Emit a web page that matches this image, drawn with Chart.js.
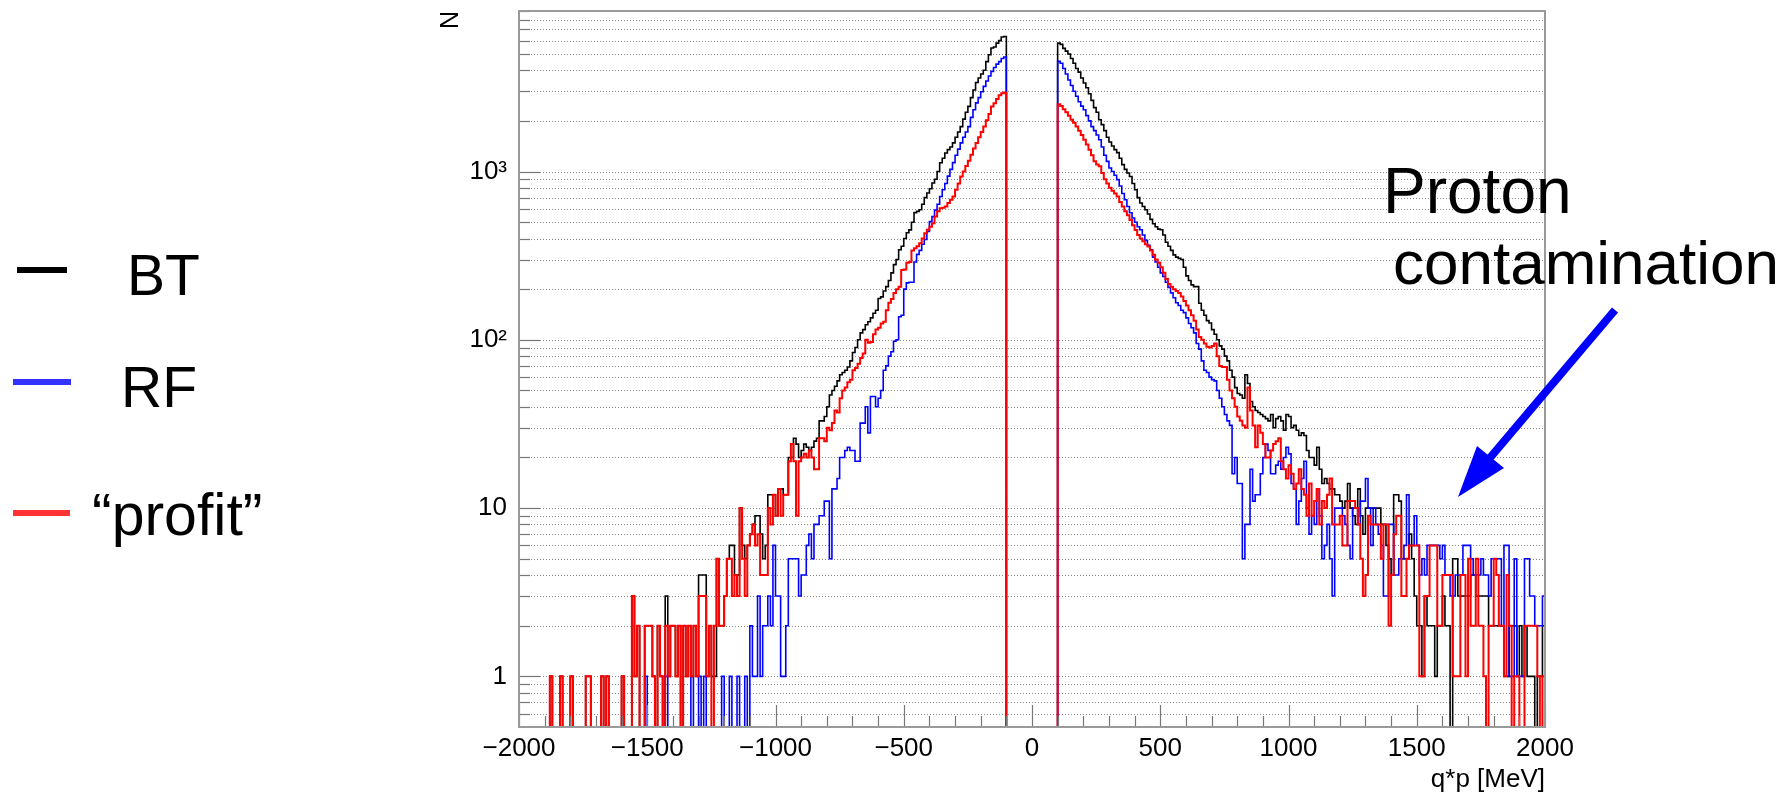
<!DOCTYPE html>
<html>
<head>
<meta charset="utf-8">
<title>q*p [MeV]</title>
<script src="https://cdn.jsdelivr.net/npm/chart.js@4.4.1/dist/chart.umd.min.js"></script>
<style>
  html, body { margin: 0; padding: 0; background: #fff; }
  canvas { display: block; }
</style>
</head>
<body>
<canvas id="chart" width="1790" height="794"></canvas>
<script>
// 10 MeV bins, the two branches are empty between -100 and +100
var binWidth = 10;
var negStart = -2000;
var posStart = 100;
var yMin = 0.5, yMax = 9000;

var yTicks = [1, 10, 100, 1000];
var yLabels = ['1', '10', '10\u00b2', '10\u00b3'];

// BT (black), q*p < 0 : bins from -2000 to -100
var btNeg = [
  0,0,0,0,0,0,0,0,0,0,
  0,0,1,0,0,0,1,0,0,0,
  1,0,0,0,0,0,1,1,0,0,
  0,0,1,0,1,0,0,0,0,0,
  1,0,0,0,3,1,2,0,0,2,
  2,2,1,0,2,1,0,3,1,2,
  2,1,2,0,2,1,2,1,2,1,
  4,4,4,1,2,1,1,5,2,2,
  3,5,6,6,4,4,10,6,5,6,
  7,8,9,9,7,5,6,12,12,12,
  9,13,13,12,12,20,20,26,24,20,
  22,24,23,22,23,25,26,33,33,35,
  40,47,50,53,57,62,64,66,69,75,
  84,90,100,110,115,123,128,135,144,150,
  176,180,195,207,225,250,280,300,343,360,
  400,433,450,500,570,580,593,640,700,745,
  790,855,900,1000,1128,1200,1290,1350,1400,1480,
  1600,1720,1850,2050,2250,2440,2750,3050,3380,3600,
  3800,4000,4500,4950,5420,5500,5800,6000,6300,6350
];
// BT, q*p > 0 : bins from 100 to 2000
var btPos = [
  5800,5700,5400,5200,5000,4700,4400,4100,3900,3600,
  3360,3150,2900,2650,2400,2250,2030,1900,1750,1600,
  1500,1420,1350,1295,1200,1100,1030,980,935,850,
  780,700,650,620,593,560,520,490,470,455,
  451,420,380,360,340,320,310,305,300,270,
  240,225,212,207,207,165,150,140,130,126,
  115,108,100,92,88,80,75,66,60,52,
  48,47,45,62,55,43,40,38,37,36,
  35,34,33,36,30,34,35,33,29,36,
  35,30,31,29,27,28,27,22,20,20,
  18,23,17,14,15,14,13,13,12,12,
  11,10,11,14,10,9,8,13,9,7,
  10,10,10,10,10,10,8,8,6,5,
  4,12,12,11,5,5,5,7,5,3,
  2,2,1,3,2,2,2,1,2,2,
  3,2,2,0,5,5,3,3,3,3,
  3,4,4,3,3,3,3,3,2,2,
  2,2,2,2,1,1,2,2,2,1,
  2,1,2,1,1,1,0,1,1,2
];

// RF (blue)
var rfNeg = [
  0,0,0,0,0,0,0,0,0,0,
  0,0,0,0,0,0,0,0,0,0,
  0,0,0,0,0,0,0,0,0,0,
  0,0,0,0,0,0,0,0,0,0,
  0,0,0,0,0,0,0,0,0,1,
  0,0,0,0,0,0,0,1,0,0,
  0,0,0,0,0,0,0,1,0,0,
  1,0,1,0,0,0,0,0,0,1,
  0,0,1,0,0,1,0,0,1,0,
  2,1,1,3,1,2,2,3,2,6,
  3,3,1,1,2,5,5,5,5,3,
  4,4,6,7,5,8,8,9,9,11,
  11,5,13,13,15,20,20,22,23,22,
  22,19,19,32,32,40,28,46,46,40,
  45,50,66,70,80,85,98,100,137,140,
  200,218,220,220,290,322,340,370,395,440,
  505,540,590,640,711,780,850,940,1030,1130,
  1250,1360,1480,1600,1720,1850,2100,2330,2560,2750,
  2980,3210,3450,3700,3940,4150,4350,4500,4700,4800
];
var rfPos = [
  4520,4400,4100,3800,3500,3250,3000,2800,2600,2450,
  2330,2150,2000,1850,1750,1650,1545,1400,1250,1150,
  1050,1000,950,895,820,740,680,620,569,530,
  500,470,451,420,390,365,343,310,290,270,
  250,238,220,205,190,178,166,160,150,145,
  135,125,118,110,95,88,75,66,64,60,
  58,57,50,45,40,36,33,31,16,20,
  14,14,5,8,8,17,11,12,12,16,
  20,24,22,16,16,18,19,17,20,23,
  21,14,13,8,11,15,19,10,7,9,
  8,13,9,5,6,8,5,3,10,10,
  10,9,8,6,5,10,10,8,11,11,
  15,10,6,10,8,7,6,3,3,8,
  8,4,4,5,5,6,12,6,6,9,
  6,4,5,4,6,6,6,6,6,5,
  6,4,4,3,3,4,4,4,6,6,
  6,5,4,4,4,5,4,4,3,5,
  5,5,5,2,6,6,1,1,5,1,
  1,1,5,5,3,3,2,2,2,3
];

// "profit" (red)
var profitNeg = [
  0,0,0,0,0,0,0,0,0,0,
  0,0,1,0,0,0,1,0,0,0,
  1,0,0,0,0,0,1,1,0,0,
  0,0,1,0,1,0,0,0,0,0,
  1,0,0,0,3,1,2,0,0,2,
  2,2,1,0,2,1,0,2,1,2,
  2,1,2,0,2,1,2,1,2,1,
  3,3,3,1,2,0,2,5,2,2,
  3,5,5,3,4,3,10,5,3,6,
  7,8,6,7,4,4,4,10,8,12,
  9,13,9,12,12,19,24,19,9,19,
  20,21,20,22,20,17,17,26,26,25,
  30,29,32,38,37,45,50,52,56,58,
  66,68,72,78,83,100,96,97,108,115,
  118,125,128,150,166,175,190,200,207,260,
  262,287,290,340,350,360,375,400,430,451,
  470,493,540,580,605,610,620,650,680,711,
  780,850,935,1000,1080,1160,1260,1370,1480,1600,
  1720,1850,2020,2200,2440,2550,2700,2840,2920,2950
];
var profitPos = [
  2510,2450,2350,2250,2150,2030,1950,1850,1750,1650,
  1545,1450,1350,1250,1150,1100,1075,980,900,850,
  800,770,740,711,660,620,580,550,516,480,
  450,420,400,385,370,359,340,320,300,287,
  270,250,230,215,207,200,195,190,181,170,
  160,150,140,130,115,104,100,95,91,90,
  92,95,80,70,69,69,58,50,45,40,
  35,33,31,30,52,38,31,23,31,28,
  24,20,20,22,24,25,26,19,17,15,
  18,16,13,14,17,13,12,9,14,9,
  11,13,8,11,10,12,15,8,8,8,
  9,6,6,11,11,11,10,8,5,3,
  4,9,8,8,8,8,5,8,8,2,
  4,7,9,9,3,3,5,6,6,6,
  6,1,1,3,3,6,6,6,2,2,
  4,4,4,4,1,1,1,4,4,1,
  5,2,2,5,2,2,1,0,2,2,
  5,4,2,2,1,4,2,0,1,1,
  0,0,2,2,2,2,2,1,0,1
];

var fontFamily = "'Liberation Sans', Arial, sans-serif";

// step outline through the bin left edges; empty bins sit on the frame bottom (as ROOT draws them)
function histPoints(neg, pos) {
  var pts = [];
  var i;
  for (i = 0; i < neg.length; i++) {
    pts.push({x: negStart + i * binWidth, y: neg[i] > 0 ? neg[i] : yMin});
  }
  pts.push({x: negStart + neg.length * binWidth, y: yMin});
  for (i = 0; i < pos.length; i++) {
    pts.push({x: posStart + i * binWidth, y: pos[i] > 0 ? pos[i] : yMin});
  }
  pts.push({x: posStart + pos.length * binWidth, y: pos[pos.length - 1] > 0 ? pos[pos.length - 1] : yMin});
  return pts;
}

// frame, dotted grid, inner ticks, titles, legend and the annotation
var decorations = {
  id: 'decorations',
  beforeDraw: function (chart) {
    var ctx = chart.ctx;
    ctx.save();
    ctx.fillStyle = '#ffffff';
    ctx.fillRect(0, 0, chart.width, chart.height);
    ctx.restore();
  },
  beforeDatasetsDraw: function (chart) {
    var ctx = chart.ctx, a = chart.chartArea, ys = chart.scales.y;
    ctx.save();
    ctx.strokeStyle = '#8a8a8a';
    ctx.lineWidth = 1;
    ctx.setLineDash([1, 2]);
    for (var d = 0.1; d < yMax; d *= 10) {
      for (var m = 1; m < 10; m++) {
        var v = m * d;
        if (v <= yMin * 1.01 || v > yMax) continue;
        var y = Math.round(ys.getPixelForValue(v)) + 0.5;
        ctx.beginPath();
        ctx.moveTo(a.left, y);
        ctx.lineTo(a.right, y);
        ctx.stroke();
      }
    }
    ctx.restore();
  },
  afterDatasetsDraw: function (chart) {
    var ctx = chart.ctx, a = chart.chartArea, xs = chart.scales.x, ys = chart.scales.y;
    ctx.save();
    ctx.strokeStyle = '#777777';
    ctx.lineWidth = 1.2;
    // y ticks
    for (var d = 0.1; d < yMax; d *= 10) {
      for (var m = 1; m < 10; m++) {
        var v = m * d;
        if (v <= yMin * 1.01 || v > yMax) continue;
        var y = Math.round(ys.getPixelForValue(v)) + 0.5;
        ctx.beginPath();
        ctx.moveTo(a.left, y);
        ctx.lineTo(a.left + (m === 1 ? 21 : 11), y);
        ctx.stroke();
      }
    }
    // x ticks
    for (var t = -2000; t <= 2000; t += 100) {
      var x = Math.round(xs.getPixelForValue(t)) + 0.5;
      ctx.beginPath();
      ctx.moveTo(x, a.bottom);
      ctx.lineTo(x, a.bottom - (t % 500 === 0 ? 22 : 11));
      ctx.stroke();
    }
    // frame
    ctx.strokeStyle = '#9a9a9a';
    ctx.lineWidth = 2;
    ctx.strokeRect(a.left, a.top, a.right - a.left, a.bottom - a.top);
    ctx.restore();
  },
  afterDraw: function (chart) {
    var ctx = chart.ctx, a = chart.chartArea;
    ctx.save();
    ctx.fillStyle = '#000000';

    // axis titles
    ctx.font = '26px ' + fontFamily;
    ctx.textAlign = 'right';
    ctx.textBaseline = 'alphabetic';
    ctx.fillText('q*p [MeV]', a.right, 787);
    ctx.save();
    ctx.translate(458, a.top);
    ctx.rotate(-Math.PI / 2);
    ctx.font = '25px ' + fontFamily;
    ctx.textAlign = 'right';
    ctx.fillText('N', 0, 0);
    ctx.restore();

    // legend
    ctx.lineWidth = 6;
    var legend = [
      {text: 'BT', color: '#000000', x1: 17, x2: 67, y: 270, tx: 127, ty: 295, size: 57},
      {text: 'RF', color: '#3333ff', x1: 13, x2: 71, y: 382, tx: 121, ty: 407, size: 57},
      {text: '\u201cprofit\u201d', color: '#ff3333', x1: 13, x2: 70, y: 513, tx: 92, ty: 535, size: 59}
    ];
    ctx.textAlign = 'left';
    legend.forEach(function (item) {
      ctx.strokeStyle = item.color;
      ctx.beginPath();
      ctx.moveTo(item.x1, item.y);
      ctx.lineTo(item.x2, item.y);
      ctx.stroke();
      ctx.font = item.size + 'px ' + fontFamily;
      ctx.fillText(item.text, item.tx, item.ty);
    });

    // annotation
    ctx.font = '64px ' + fontFamily;
    ctx.fillText('Proton', 1383, 213);
    ctx.font = '62px ' + fontFamily;
    ctx.fillText('contamination', 1393, 284);

    ctx.strokeStyle = '#0000ff';
    ctx.fillStyle = '#0000ff';
    ctx.lineWidth = 8;
    ctx.beginPath();
    ctx.moveTo(1615, 310);
    ctx.lineTo(1489, 459);
    ctx.stroke();
    ctx.beginPath();
    ctx.moveTo(1458, 497);
    ctx.lineTo(1477, 446);
    ctx.lineTo(1504, 468);
    ctx.closePath();
    ctx.fill();
    ctx.restore();
  }
};

var tickFont = {family: fontFamily, size: 26};

new Chart(document.getElementById('chart'), {
  type: 'line',
  data: {
    datasets: [
      {label: 'BT', data: histPoints(btNeg, btPos), borderColor: '#000000', order: 3},
      {label: 'RF', data: histPoints(rfNeg, rfPos), borderColor: '#0000ff', order: 2},
      {label: '\u201cprofit\u201d', data: histPoints(profitNeg, profitPos), borderColor: '#ff0000', borderWidth: 2, order: 1}
    ]
  },
  options: {
    responsive: false,
    animation: false,
    devicePixelRatio: 1,
    layout: {padding: {left: 439, right: 245, top: 11, bottom: 0}},
    datasets: {
      line: {stepped: 'before', borderWidth: 1.6, pointRadius: 0, fill: false, borderJoinStyle: 'miter', tension: 0}
    },
    plugins: {
      legend: {display: false},
      tooltip: {enabled: false}
    },
    scales: {
      x: {
        type: 'linear',
        min: -2000,
        max: 2000,
        bounds: 'data',
        afterFit: function (scale) {
          scale.height = 67;
          scale.paddingLeft = 0;
          scale.paddingRight = 0;
        },
        grid: {display: false, drawTicks: false},
        border: {display: false},
        ticks: {
          stepSize: 500,
          padding: 6,
          color: '#000000',
          font: tickFont,
          maxRotation: 0,
          autoSkip: false,
          callback: function (v) { return v < 0 ? '\u2212' + (-v) : '' + v; }
        }
      },
      y: {
        type: 'logarithmic',
        min: yMin,
        max: yMax,
        bounds: 'data',
        afterBuildTicks: function (scale) {
          scale.ticks = yTicks.map(function (v) { return {value: v}; });
        },
        afterFit: function (scale) {
          scale.width = 80;
          scale.paddingTop = 0;
          scale.paddingBottom = 0;
        },
        grid: {display: false, drawTicks: false},
        border: {display: false},
        ticks: {
          padding: 12,
          color: '#000000',
          font: tickFont,
          autoSkip: false,
          callback: function (v) {
            var i = yTicks.indexOf(v);
            return i < 0 ? '' : yLabels[i];
          }
        }
      }
    }
  },
  plugins: [decorations]
});
</script>
</body>
</html>
